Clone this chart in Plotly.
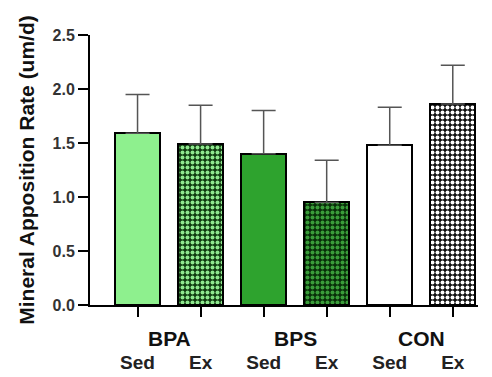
import plotly.graph_objects as go

# Mineral apposition rate per group (mean + SD)
conditions = ["Sed", "Ex", "Sed", "Ex", "Sed", "Ex"]
groups = ["BPA", "BPS", "CON"]
mar_mean = [1.59, 1.49, 1.40, 0.95, 1.48, 1.86]
mar_sd = [0.36, 0.36, 0.40, 0.39, 0.35, 0.36]

fill_colors = ["#8ef08e", "#0f3a0f", "#2ea32e", "#082e08", "#ffffff", "#111111"]
dot_colors = [None, "#8ee88e", None, "#3a9c3a", None, "#ffffff"]

positions = list(range(len(mar_mean)))
FONT = "Liberation Sans, Arial, Helvetica"

fig = go.Figure()
for i, (m, s) in enumerate(zip(mar_mean, mar_sd)):
    pattern = dict(shape="")
    if dot_colors[i]:
        pattern = dict(shape=".", bgcolor=fill_colors[i], fgcolor=dot_colors[i],
                       size=5, solidity=0.5, fillmode="replace")
    fig.add_trace(go.Bar(
        x=[positions[i]], y=[m], width=0.71,
        marker=dict(color=fill_colors[i], line=dict(color="black", width=2),
                    pattern=pattern),
        error_y=dict(type="data", symmetric=False, array=[s], arrayminus=[0],
                     color="#555555", thickness=1.5, width=12),
        showlegend=False,
    ))

# Group labels centred under each Sed/Ex pair
for g, name in enumerate(groups):
    fig.add_annotation(x=(positions[2 * g] + positions[2 * g + 1]) / 2, y=0,
                       xref="x", yref="y", yanchor="middle", yshift=-33,
                       text=name, showarrow=False,
                       font=dict(family=FONT, size=21, color="#111111",
                                 weight="bold"))

fig.update_layout(
    width=492, height=377,
    margin=dict(l=90, r=14, t=35, b=72),
    plot_bgcolor="white", paper_bgcolor="white",
    font=dict(family=FONT, color="#222222"),
    bargap=0,
)
fig.update_xaxes(
    range=[-0.754, 5.40], tickvals=positions, ticktext=conditions,
    automargin=False,
    showline=True, linecolor="black", linewidth=2, showgrid=False, zeroline=False,
    ticks="outside", ticklen=10, tickwidth=2, tickcolor="black",
    ticklabelstandoff=29,
    tickfont=dict(size=19, weight="bold", color="#222222"),
)
fig.update_yaxes(
    range=[0, 2.5], tickvals=[0, 0.5, 1.0, 1.5, 2.0, 2.5],
    ticktext=["0.0", "0.5", "1.0", "1.5", "2.0", "2.5"],
    automargin=False,
    showline=True, linecolor="black", linewidth=2, showgrid=False, zeroline=False,
    ticks="outside", ticklen=10, tickwidth=2, tickcolor="black",
    tickfont=dict(size=16, weight="bold", color="#333333"),
    title=dict(text="Mineral Apposition Rate (um/d)", standoff=12,
               font=dict(size=21, weight="bold", color="#111111")),
)

fig.write_html("out.html")
